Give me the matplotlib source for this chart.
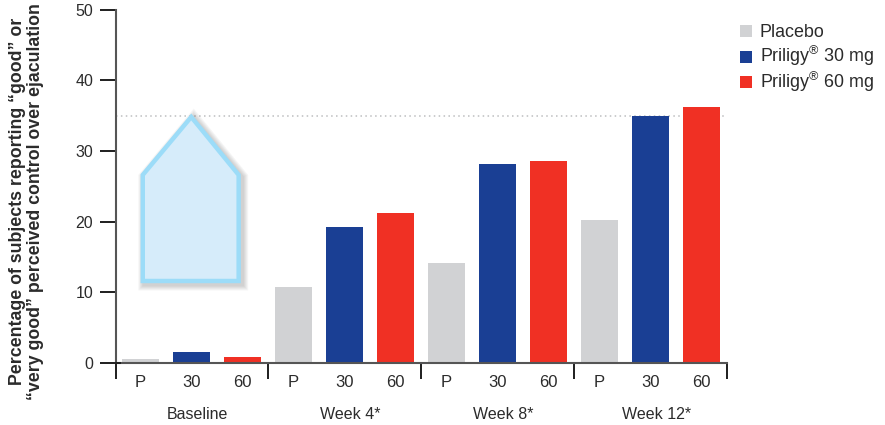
import matplotlib
matplotlib.use("Agg")
import matplotlib.pyplot as plt
from matplotlib.patches import Polygon, Rectangle
from matplotlib.transforms import offset_copy

plt.rcParams["font.family"] = ["Liberation Sans", "DejaVu Sans"]
plt.rcParams["mathtext.fontset"] = "custom"
plt.rcParams["mathtext.rm"] = "Liberation Sans"
plt.rcParams["mathtext.default"] = "rm"

# Responder rates by visit and treatment arm (%)
groups = ["Baseline", "Week 4*", "Week 8*", "Week 12*"]
doses = ["P", "30", "60"]
placebo = [0.6, 10.8, 14.1, 20.2]
priligy_30 = [1.6, 19.2, 28.1, 35.0]
priligy_60 = [0.9, 21.2, 28.6, 36.2]
reference_level = 35.0
series_labels = ["Placebo", r"Priligy$^{®}$ 30 mg", r"Priligy$^{®}$ 60 mg"]
series_colors = ["#D1D2D4", "#1A3F94", "#F03024"]

# Callout shape above the baseline bars (x in bar slots, y in percent)
callout_x = [0.05, 0.05, 1.0, 1.93, 1.93]
callout_y = [11.6, 26.6, 34.8, 26.6, 11.6]

W, H = 885, 425
fig = plt.figure(figsize=(W / 100, H / 100), dpi=100, facecolor="white")
left, right, top, bottom = 116, 727, 9.5, 363
ax = fig.add_axes([left / W, 1 - bottom / H, (right - left) / W, (bottom - top) / H])

n_doses = len(doses)
ax.set_xlim(-0.475, 11.505)
ax.set_ylim(0, 50)

# Grouped bars
for offset, (values, color) in enumerate(zip([placebo, priligy_30, priligy_60], series_colors)):
    xs = [g * n_doses + offset for g in range(len(groups))]
    ax.bar(xs, values, width=0.725, color=color, linewidth=0, zorder=2)

ax.plot([-0.475, 11.45], [reference_level, reference_level], color="#BDBEC0",
        linewidth=1.1, linestyle=(0, (1, 2.2)), zorder=1)

# Soft drop shadow behind the callout, falling to the lower right
callout_pts = list(zip(callout_x, callout_y))
shadow_tf = offset_copy(ax.transData, fig=fig, x=2.5, y=-2.5, units="dots")
for lw in [10, 8.5, 7, 5.5, 4]:
    ax.add_patch(Polygon(callout_pts, closed=True, facecolor="none", edgecolor="#555555",
                         alpha=0.06, linewidth=lw, joinstyle="miter", transform=shadow_tf, zorder=3))
ax.add_patch(Polygon(callout_pts, closed=True, facecolor="#D6ECFA", edgecolor="#9CDCF8",
                     linewidth=3.2, joinstyle="miter", zorder=4))

# Axes styling
for side in ["top", "right"]:
    ax.spines[side].set_visible(False)
for side in ["left", "bottom"]:
    ax.spines[side].set_color("#555555")
    ax.spines[side].set_linewidth(1.5)

text_color = "#2B2B2B"
ax.set_yticks(range(0, 51, 10))
ax.tick_params(axis="y", length=11.5, width=1.4, color="#1E1E1E", labelsize=11.5,
               labelcolor=text_color, pad=5)

# The zero tick pokes slightly through the vertical axis
ax.plot([-0.475, -0.395], [0, 0], color="#1E1E1E", linewidth=1.4, clip_on=False, zorder=5)

# Group separators as major ticks, dose labels on minor positions
ax.set_xticks([-0.475, 2.5, 5.5, 8.5, 11.5])
ax.set_xticklabels([])
ax.tick_params(axis="x", which="major", length=11.5, width=1.4, color="#1E1E1E")
dose_positions = [g * n_doses + i for g in range(len(groups)) for i in range(n_doses)]
ax.set_xticks(dose_positions, minor=True)
ax.set_xticklabels(doses * len(groups), minor=True)
ax.tick_params(axis="x", which="minor", length=0, labelsize=12, labelcolor=text_color, pad=8.5)

# Visit labels beneath the dose labels
label_tf = ax.get_xaxis_transform()
for g, name in enumerate(groups):
    ax.annotate(name, xy=(g * n_doses + 1, 0), xycoords=label_tf, xytext=(4.5, -37),
                textcoords="offset points", ha="center", va="center",
                fontsize=11.5, color=text_color)

# Two-line rotated axis title
fig.text(26.5 / W, 1 - 201.5 / H,
         "Percentage of subjects reporting “good” or\n“very good” perceived control over ejaculation",
         rotation=90, ha="center", va="center", fontsize=12.8, fontweight="bold",
         color=text_color, linespacing=1.15, multialignment="center")

# Legend keys and labels on evenly spaced rows
for row, (label, color) in enumerate(zip(series_labels, series_colors)):
    y_px = 31 + row * 25.5
    fig.add_artist(Rectangle((740 / W, 1 - (y_px + 6) / H), 12 / W, 12 / H,
                             transform=fig.transFigure, facecolor=color, edgecolor="none"))
    fig.text(759.5 / W, 1 - (y_px + 6) / H, label, ha="left", va="baseline",
             fontsize=12.9, color=text_color)

fig.savefig("out.png", dpi=100, facecolor="white")
